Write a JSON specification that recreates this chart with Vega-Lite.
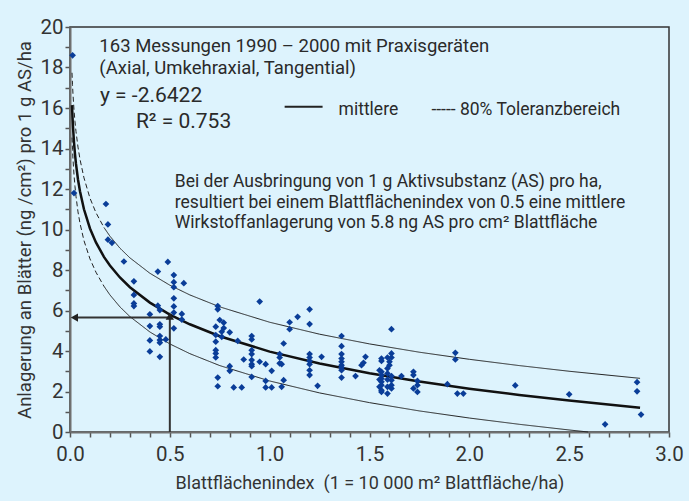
{
  "$schema": "https://vega.github.io/schema/vega-lite/v6.json",
  "width": 599,
  "height": 405,
  "autosize": "none",
  "padding": {"left": 70, "top": 27, "right": 20, "bottom": 69},
  "background": "#ddf3fd",
  "config": {
    "view": {"stroke": "#333333", "strokeWidth": 1.5, "fill": "#ddf3fd"},
    "font": "Roboto",
    "axis": {"grid": false, "domainColor": "#707070", "domainWidth": 2, "tickColor": "#555555", "tickWidth": 1.5, "tickSize": 5, "labelColor": "#333333", "titleColor": "#333333", "labelFont": "Roboto", "titleFont": "Roboto", "titleFontWeight": "normal", "labelFlush": false, "labelOverlap": false}
  },
  "datasets": {
    "messungen": [
      {"x": 0.013, "y": 18.6}, {"x": 0.02, "y": 11.8}, {"x": 0.18, "y": 11.26}, {"x": 0.19, "y": 10.25}, {"x": 0.19, "y": 9.5}, {"x": 0.21, "y": 9.34}, {"x": 0.27, "y": 8.42},
      {"x": 0.32, "y": 7.44}, {"x": 0.32, "y": 6.77}, {"x": 0.32, "y": 6.35}, {"x": 0.32, "y": 6.22},
      {"x": 0.4, "y": 5.81}, {"x": 0.4, "y": 5.23}, {"x": 0.4, "y": 4.52}, {"x": 0.4, "y": 3.98},
      {"x": 0.44, "y": 7.92}, {"x": 0.44, "y": 6.24}, {"x": 0.45, "y": 6.02}, {"x": 0.45, "y": 5.32}, {"x": 0.45, "y": 5.2}, {"x": 0.45, "y": 4.74}, {"x": 0.45, "y": 4.54}, {"x": 0.45, "y": 4.41}, {"x": 0.45, "y": 3.71},
      {"x": 0.48, "y": 4.57}, {"x": 0.49, "y": 8.4},
      {"x": 0.52, "y": 7.75}, {"x": 0.52, "y": 7.4}, {"x": 0.52, "y": 7.15}, {"x": 0.52, "y": 6.6}, {"x": 0.52, "y": 6.2}, {"x": 0.52, "y": 5.9}, {"x": 0.52, "y": 5.12},
      {"x": 0.56, "y": 5.83}, {"x": 0.56, "y": 5.55}, {"x": 0.57, "y": 7.35},
      {"x": 0.74, "y": 6.22}, {"x": 0.74, "y": 6.06}, {"x": 0.75, "y": 5.53}, {"x": 0.77, "y": 5.4}, {"x": 0.73, "y": 5.2}, {"x": 0.77, "y": 5.13}, {"x": 0.76, "y": 4.95}, {"x": 0.8, "y": 4.92}, {"x": 0.76, "y": 4.7},
      {"x": 0.73, "y": 4.79}, {"x": 0.73, "y": 4.46}, {"x": 0.73, "y": 4.04}, {"x": 0.73, "y": 3.88}, {"x": 0.73, "y": 3.68},
      {"x": 0.84, "y": 4.5}, {"x": 0.91, "y": 4.74}, {"x": 0.91, "y": 4.57}, {"x": 0.91, "y": 4.04}, {"x": 0.91, "y": 3.85}, {"x": 0.91, "y": 3.55}, {"x": 0.91, "y": 3.35}, {"x": 0.91, "y": 3.25},
      {"x": 0.87, "y": 3.58}, {"x": 0.95, "y": 3.47}, {"x": 0.98, "y": 3.35}, {"x": 1.01, "y": 3.02}, {"x": 0.8, "y": 3.25}, {"x": 0.8, "y": 3.02},
      {"x": 0.74, "y": 2.69}, {"x": 0.74, "y": 2.26}, {"x": 0.91, "y": 2.72}, {"x": 0.82, "y": 2.2}, {"x": 0.86, "y": 2.2}, {"x": 0.98, "y": 2.52}, {"x": 0.98, "y": 2.2}, {"x": 1.01, "y": 2.2}, {"x": 0.95, "y": 6.44},
      {"x": 1.05, "y": 3.85}, {"x": 1.05, "y": 3.68}, {"x": 1.05, "y": 3.39}, {"x": 1.06, "y": 3.35}, {"x": 1.06, "y": 2.23}, {"x": 1.07, "y": 4.37}, {"x": 1.07, "y": 2.56},
      {"x": 1.1, "y": 5.42}, {"x": 1.1, "y": 5.08}, {"x": 1.14, "y": 5.69}, {"x": 1.2, "y": 6.06}, {"x": 1.2, "y": 5.33}, {"x": 1.2, "y": 3.85}, {"x": 1.2, "y": 3.68}, {"x": 1.2, "y": 3.51}, {"x": 1.2, "y": 3.35}, {"x": 1.2, "y": 3.05}, {"x": 1.2, "y": 2.81},
      {"x": 1.24, "y": 2.28}, {"x": 1.26, "y": 3.71},
      {"x": 1.36, "y": 4.74}, {"x": 1.36, "y": 4.24}, {"x": 1.36, "y": 3.85}, {"x": 1.36, "y": 3.63}, {"x": 1.36, "y": 3.47}, {"x": 1.36, "y": 3.3}, {"x": 1.36, "y": 3.19}, {"x": 1.36, "y": 3.05}, {"x": 1.36, "y": 2.69},
      {"x": 1.43, "y": 2.76}, {"x": 1.46, "y": 3.3}, {"x": 1.47, "y": 3.42}, {"x": 1.48, "y": 3.71},
      {"x": 1.61, "y": 5.08}, {"x": 1.56, "y": 3.63}, {"x": 1.56, "y": 3.51}, {"x": 1.59, "y": 3.68}, {"x": 1.61, "y": 3.88}, {"x": 1.61, "y": 3.68}, {"x": 1.6, "y": 3.47}, {"x": 1.6, "y": 3.3},
      {"x": 1.55, "y": 3.05}, {"x": 1.56, "y": 2.97}, {"x": 1.56, "y": 2.81}, {"x": 1.56, "y": 2.64}, {"x": 1.56, "y": 2.48}, {"x": 1.56, "y": 2.31}, {"x": 1.56, "y": 2.06}, {"x": 1.55, "y": 2.59}, {"x": 1.55, "y": 2.23},
      {"x": 1.59, "y": 3.14}, {"x": 1.59, "y": 2.89}, {"x": 1.61, "y": 2.76}, {"x": 1.61, "y": 2.56}, {"x": 1.61, "y": 2.31}, {"x": 1.61, "y": 2.15}, {"x": 1.59, "y": 2.59}, {"x": 1.59, "y": 2.23}, {"x": 1.59, "y": 1.9}, {"x": 1.56, "y": 1.98},
      {"x": 1.66, "y": 2.76}, {"x": 1.72, "y": 2.97}, {"x": 1.72, "y": 2.81}, {"x": 1.74, "y": 2.52}, {"x": 1.74, "y": 2.31}, {"x": 1.72, "y": 2.15}, {"x": 1.74, "y": 1.98},
      {"x": 1.89, "y": 2.36}, {"x": 1.93, "y": 3.91}, {"x": 1.93, "y": 3.58}, {"x": 1.94, "y": 1.9}, {"x": 1.97, "y": 1.9},
      {"x": 2.23, "y": 2.3}, {"x": 2.5, "y": 1.86}, {"x": 2.68, "y": 0.38}, {"x": 2.84, "y": 2.46}, {"x": 2.84, "y": 2.01}, {"x": 2.86, "y": 0.86}
    ],
    "mittlere": [
      {"x": 0.01, "y": 16.14}, {"x": 0.0125, "y": 15.55}, {"x": 0.015, "y": 15.07}, {"x": 0.02, "y": 14.31}, {"x": 0.025, "y": 13.72}, {"x": 0.03, "y": 13.24}, {"x": 0.04, "y": 12.47}, {"x": 0.05, "y": 11.89}, {"x": 0.07, "y": 11.0}, {"x": 0.1, "y": 10.05}, {"x": 0.13, "y": 9.36}, {"x": 0.17, "y": 8.65}, {"x": 0.2, "y": 8.22}, {"x": 0.25, "y": 7.63}, {"x": 0.3, "y": 7.15}, {"x": 0.4, "y": 6.39}, {"x": 0.5, "y": 5.8}, {"x": 0.6, "y": 5.32}, {"x": 0.75, "y": 4.73}, {"x": 1.0, "y": 3.97}, {"x": 1.25, "y": 3.38}, {"x": 1.5, "y": 2.9}, {"x": 1.75, "y": 2.49}, {"x": 2.0, "y": 2.14}, {"x": 2.25, "y": 1.83}, {"x": 2.5, "y": 1.55}, {"x": 2.855, "y": 1.2}
    ],
    "toleranz": [
      {"kurve": "oben", "teil": "extrapoliert", "x": 0.01, "y": 17.74}, {"kurve": "oben", "teil": "extrapoliert", "x": 0.0125, "y": 17.15}, {"kurve": "oben", "teil": "extrapoliert", "x": 0.015, "y": 16.67}, {"kurve": "oben", "teil": "extrapoliert", "x": 0.02, "y": 15.91}, {"kurve": "oben", "teil": "extrapoliert", "x": 0.025, "y": 15.32}, {"kurve": "oben", "teil": "extrapoliert", "x": 0.03, "y": 14.84}, {"kurve": "oben", "teil": "extrapoliert", "x": 0.04, "y": 14.07}, {"kurve": "oben", "teil": "extrapoliert", "x": 0.05, "y": 13.47}, {"kurve": "oben", "teil": "extrapoliert", "x": 0.07, "y": 12.55}, {"kurve": "oben", "teil": "extrapoliert", "x": 0.1, "y": 11.55}, {"kurve": "oben", "teil": "extrapoliert", "x": 0.13, "y": 10.83}, {"kurve": "oben", "teil": "extrapoliert", "x": 0.17, "y": 10.1},
      {"kurve": "unten", "teil": "extrapoliert", "x": 0.01, "y": 14.54}, {"kurve": "unten", "teil": "extrapoliert", "x": 0.0125, "y": 13.95}, {"kurve": "unten", "teil": "extrapoliert", "x": 0.015, "y": 13.47}, {"kurve": "unten", "teil": "extrapoliert", "x": 0.02, "y": 12.71}, {"kurve": "unten", "teil": "extrapoliert", "x": 0.025, "y": 12.12}, {"kurve": "unten", "teil": "extrapoliert", "x": 0.03, "y": 11.64}, {"kurve": "unten", "teil": "extrapoliert", "x": 0.04, "y": 10.87}, {"kurve": "unten", "teil": "extrapoliert", "x": 0.05, "y": 10.31}, {"kurve": "unten", "teil": "extrapoliert", "x": 0.07, "y": 9.45}, {"kurve": "unten", "teil": "extrapoliert", "x": 0.1, "y": 8.55}, {"kurve": "unten", "teil": "extrapoliert", "x": 0.13, "y": 7.89}, {"kurve": "unten", "teil": "extrapoliert", "x": 0.17, "y": 7.2},
      {"kurve": "oben", "teil": "Messbereich", "x": 0.17, "y": 10.1}, {"kurve": "oben", "teil": "Messbereich", "x": 0.2, "y": 9.67}, {"kurve": "oben", "teil": "Messbereich", "x": 0.25, "y": 9.08}, {"kurve": "oben", "teil": "Messbereich", "x": 0.3, "y": 8.6}, {"kurve": "oben", "teil": "Messbereich", "x": 0.4, "y": 7.84}, {"kurve": "oben", "teil": "Messbereich", "x": 0.5, "y": 7.25}, {"kurve": "oben", "teil": "Messbereich", "x": 0.6, "y": 6.77}, {"kurve": "oben", "teil": "Messbereich", "x": 0.75, "y": 6.18}, {"kurve": "oben", "teil": "Messbereich", "x": 1.0, "y": 5.42}, {"kurve": "oben", "teil": "Messbereich", "x": 1.25, "y": 4.83}, {"kurve": "oben", "teil": "Messbereich", "x": 1.5, "y": 4.35}, {"kurve": "oben", "teil": "Messbereich", "x": 1.75, "y": 3.94}, {"kurve": "oben", "teil": "Messbereich", "x": 2.0, "y": 3.59}, {"kurve": "oben", "teil": "Messbereich", "x": 2.25, "y": 3.28}, {"kurve": "oben", "teil": "Messbereich", "x": 2.5, "y": 3.0}, {"kurve": "oben", "teil": "Messbereich", "x": 2.855, "y": 2.65},
      {"kurve": "unten", "teil": "Messbereich", "x": 0.17, "y": 7.2}, {"kurve": "unten", "teil": "Messbereich", "x": 0.2, "y": 6.77}, {"kurve": "unten", "teil": "Messbereich", "x": 0.25, "y": 6.18}, {"kurve": "unten", "teil": "Messbereich", "x": 0.3, "y": 5.7}, {"kurve": "unten", "teil": "Messbereich", "x": 0.4, "y": 4.94}, {"kurve": "unten", "teil": "Messbereich", "x": 0.5, "y": 4.35}, {"kurve": "unten", "teil": "Messbereich", "x": 0.6, "y": 3.87}, {"kurve": "unten", "teil": "Messbereich", "x": 0.75, "y": 3.28}, {"kurve": "unten", "teil": "Messbereich", "x": 1.0, "y": 2.52}, {"kurve": "unten", "teil": "Messbereich", "x": 1.25, "y": 1.93}, {"kurve": "unten", "teil": "Messbereich", "x": 1.5, "y": 1.45}, {"kurve": "unten", "teil": "Messbereich", "x": 1.75, "y": 1.04}, {"kurve": "unten", "teil": "Messbereich", "x": 2.0, "y": 0.69}, {"kurve": "unten", "teil": "Messbereich", "x": 2.25, "y": 0.38}, {"kurve": "unten", "teil": "Messbereich", "x": 2.5, "y": 0.1}, {"kurve": "unten", "teil": "Messbereich", "x": 2.595, "y": 0.0}
    ],
    "pfeile": [
      {"x": 0.5, "y": 0, "x2": 0.5, "y2": 5.6},
      {"x": 0.03, "y": 5.65, "x2": 0.5, "y2": 5.65}
    ],
    "spitzen": [
      {"richtung": "oben", "x": 0.5, "y": 5.72},
      {"richtung": "links", "x": 0.022, "y": 5.65}
    ],
    "legende": [
      {"x": 1.075, "y": 16.06, "x2": 1.265, "y2": 16.06}
    ],
    "kopf": [
      {"x": 0.147, "y": 19.06, "text": "163 Messungen 1990 – 2000 mit Praxisgeräten"},
      {"x": 0.147, "y": 17.99, "text": "(Axial, Umkehraxial, Tangential)"}
    ],
    "gleichung": [
      {"x": 0.15, "y": 16.58, "text": "y = -2.6422"},
      {"x": 0.33, "y": 15.3, "text": "R² = 0.753"}
    ],
    "texte": [
      {"x": 1.345, "y": 15.92, "text": "mittlere"},
      {"x": 1.81, "y": 15.92, "text": "----- 80% Toleranzbereich"},
      {"x": 0.525, "y": 12.36, "text": "Bei der Ausbringung von 1 g Aktivsubstanz (AS) pro ha,"},
      {"x": 0.525, "y": 11.32, "text": "resultiert bei einem Blattflächenindex von 0.5 eine mittlere"},
      {"x": 0.525, "y": 10.33, "text": "Wirkstoffanlagerung von 5.8 ng AS pro cm² Blattfläche"}
    ]
  },
  "encoding": {
    "x": {"field": "x", "type": "quantitative", "scale": {"domain": [0, 3], "nice": false, "zero": false},
      "axis": {"title": "Blattflächenindex\u00a0 (1 = 10\u00a0000 m² Blattfläche/ha)", "values": [0, 0.1, 0.2, 0.3, 0.4, 0.5, 0.6, 0.7, 0.8, 0.9, 1.0, 1.1, 1.2, 1.3, 1.4, 1.5, 1.6, 1.7, 1.8, 1.9, 2.0, 2.1, 2.2, 2.3, 2.4, 2.5, 2.6, 2.7, 2.8, 2.9, 3.0],
        "labelExpr": "(round(datum.value*10) % 5 == 0) ? format(datum.value, '.1f') : ''", "labelFontSize": 20.5, "labelPadding": 7, "titleFontSize": 18, "titlePadding": 10}},
    "y": {"field": "y", "type": "quantitative", "scale": {"domain": [0, 20], "nice": false},
      "axis": {"title": "Anlagerung an Blätter (ng /cm²) pro 1 g AS/ha", "values": [0, 1, 2, 3, 4, 5, 6, 7, 8, 9, 10, 11, 12, 13, 14, 15, 16, 17, 18, 19, 20],
        "labelExpr": "datum.value % 2 == 0 ? datum.label : ''", "labelFontSize": 20.5, "labelPadding": 2, "titleFontSize": 18.5, "titlePadding": 5}}
  },
  "layer": [
    {
      "data": {"name": "toleranz"},
      "mark": {"type": "line", "color": "#222222", "strokeWidth": 1},
      "encoding": {
        "detail": [{"field": "kurve"}, {"field": "teil"}],
        "strokeDash": {"field": "teil", "type": "nominal", "scale": {"domain": ["extrapoliert", "Messbereich"], "range": [[5, 3], [1, 0]]}, "legend": null}
      }
    },
    {
      "data": {"name": "mittlere"},
      "mark": {"type": "line", "color": "#111111", "strokeWidth": 2.5},
      "encoding": {}
    },
    {
      "data": {"name": "messungen"},
      "mark": {"type": "point", "shape": "diamond", "filled": true, "color": "#0a3d98", "size": 45, "opacity": 1},
      "encoding": {}
    },
    {
      "data": {"name": "pfeile"},
      "mark": {"type": "rule", "color": "#333333", "strokeWidth": 2},
      "encoding": {"x2": {"field": "x2"}, "y2": {"field": "y2"}}
    },
    {
      "data": {"name": "spitzen"},
      "mark": {"type": "point", "filled": true, "color": "#222222", "size": 70, "opacity": 1},
      "encoding": {"shape": {"field": "richtung", "type": "nominal", "scale": {"domain": ["oben", "links"], "range": ["triangle-up", "triangle-left"]}, "legend": null}}
    },
    {
      "data": {"name": "legende"},
      "mark": {"type": "rule", "color": "#222222", "strokeWidth": 2},
      "encoding": {"x2": {"field": "x2"}, "y2": {"field": "y2"}}
    },
    {
      "data": {"name": "kopf"},
      "mark": {"type": "text", "align": "left", "baseline": "middle", "fontSize": 18.5, "color": "#2a2a2a", "font": "Roboto"},
      "encoding": {"text": {"field": "text"}}
    },
    {
      "data": {"name": "gleichung"},
      "mark": {"type": "text", "align": "left", "baseline": "middle", "fontSize": 21, "color": "#2a2a2a", "font": "Roboto"},
      "encoding": {"text": {"field": "text"}}
    },
    {
      "data": {"name": "texte"},
      "mark": {"type": "text", "align": "left", "baseline": "middle", "fontSize": 17.5, "color": "#2a2a2a", "font": "Roboto"},
      "encoding": {"text": {"field": "text"}}
    }
  ]
}
